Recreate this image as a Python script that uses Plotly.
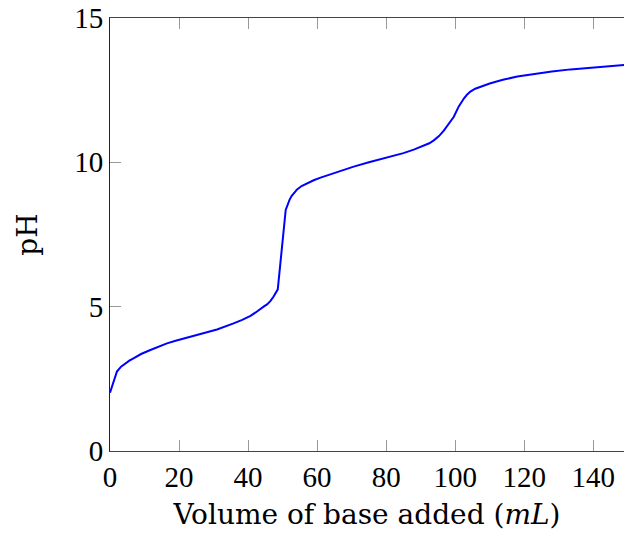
import plotly.graph_objects as go

volume_ml = [0, 2, 3.2, 4.4, 5.6, 6.8, 9, 11.7, 14, 16.5, 19, 21.3, 26.2, 31, 33.5, 35.8, 38.3, 40.7,
             42.2, 43.6, 44.6, 45.5, 46.5, 47.4, 48, 48.6,
             50.9, 51.4, 52, 52.6, 53.2, 54.2, 55.5, 57, 59, 61, 65, 70.6, 75, 80.3, 85, 88, 91,
             92.5, 93.8, 95.3, 96.7, 98, 99.6, 101, 101.8, 102.5, 103.4, 104.4, 105.8, 107.3, 110,
             112, 114.1, 118, 123.8, 128, 133.4, 140, 145, 150]
ph_values = [2.02, 2.75, 2.92, 3.04, 3.13, 3.21, 3.36, 3.50, 3.62, 3.73, 3.82, 3.90, 4.05, 4.21, 4.31, 4.42, 4.54, 4.68,
             4.80, 4.94, 5.01, 5.08, 5.20, 5.35, 5.46, 5.60,
             8.35, 8.55, 8.70, 8.83, 8.93, 9.06, 9.18, 9.27, 9.38, 9.47, 9.64, 9.85, 10.0, 10.16, 10.32, 10.44, 10.58,
             10.66, 10.76, 10.91, 11.10, 11.30, 11.58, 11.93, 12.09, 12.21, 12.34, 12.45, 12.55, 12.62, 12.73,
             12.80, 12.87, 12.97, 13.08, 13.15, 13.22, 13.29, 13.34, 13.38]

x_ticks = [0, 20, 40, 60, 80, 100, 120, 140]
y_ticks = [0, 5, 10, 15]

TICK_FONT = "Liberation Serif"
TITLE_FONT = "DejaVu Serif"

fig = go.Figure()
fig.add_trace(go.Scatter(x=volume_ml, y=ph_values, mode="lines",
                         line=dict(color="#0000ff", width=2), showlegend=False))

fig.update_layout(
    width=624, height=533,
    margin=dict(l=110, r=0, t=18, b=82),
    paper_bgcolor="white", plot_bgcolor="white",
    font=dict(family=TICK_FONT, size=29, color="black"),
    xaxis=dict(range=[0, 148.9], tickvals=x_ticks, ticks="inside", ticklen=11,
               tickcolor="#999999", tickwidth=1, showline=True, linecolor="#444444",
               linewidth=1, mirror="ticks", showgrid=False, zeroline=False,
               tickfont=dict(family=TICK_FONT, size=29),
               title=dict(text="Volume of base added (<i>mL</i>)", standoff=12,
                          font=dict(family=TITLE_FONT, size=28))),
    yaxis=dict(range=[0, 15], tickvals=y_ticks, ticks="inside", ticklen=11,
               tickcolor="#999999", tickwidth=1, showline=True, linecolor="#222222",
               linewidth=1, mirror=False, showgrid=False, zeroline=False,
               tickfont=dict(family=TICK_FONT, size=29),
               title=dict(text="pH", standoff=28, font=dict(family=TITLE_FONT, size=28))),
)

fig.write_html("out.html", config={"displayModeBar": False},
               post_script="document.body.style.margin='0';document.body.style.overflow='hidden';")
